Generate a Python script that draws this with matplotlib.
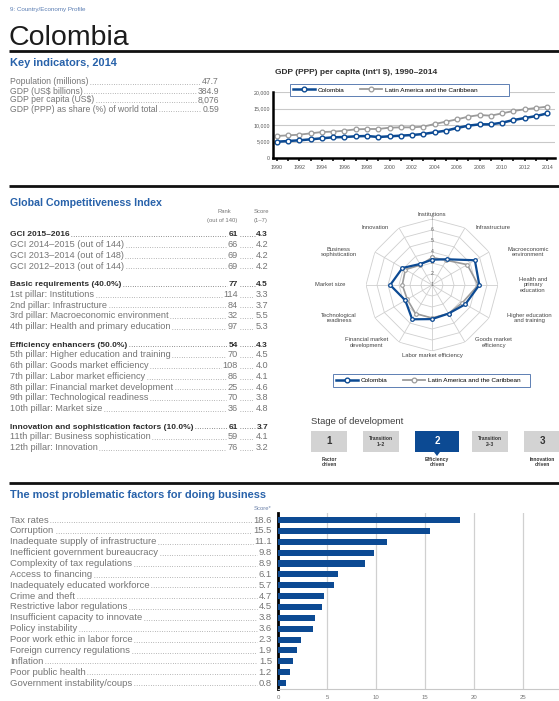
"""Colombia country profile page: key indicators, GDP trend, GCI radar, business factors."""

import matplotlib

matplotlib.use("Agg")

import matplotlib.pyplot as plt  # noqa: E402
import numpy as np  # noqa: E402
from matplotlib.patches import Polygon, Rectangle  # noqa: E402

W, H = 559, 701
plt.rcParams["font.family"] = ["Liberation Sans", "DejaVu Sans"]

BLUE = "#0c4a93"
TITLE_BLUE = "#2862aa"
GRAY = "#757575"
DARK = "#2e2e2e"
LATAM = "#9b9b9b"
FRAME = "#5d7fb3"

# ---- data -------------------------------------------------------------------
key_labels = ["Population (millions)", "GDP (US\\$ billions)", "GDP per capita (US\\$)",
              "GDP (PPP) as share (%) of world total"]
key_values = ["47.7", "384.9", "8,076", "0.59"]

years = list(range(1990, 2015))
gdp_colombia = [4940, 5150, 5360, 5660, 5970, 6270, 6360, 6570, 6670, 6360,
                6570, 6770, 6970, 7270, 7780, 8280, 9090, 9800, 10200, 10200,
                10700, 11500, 12100, 12700, 13500]
gdp_latam = [6670, 6870, 7070, 7470, 7880, 7980, 8280, 8690, 8790, 8790,
             9190, 9290, 9290, 9490, 10300, 11010, 11720, 12520, 13030, 12830,
             13530, 14240, 14750, 15150, 15560]

gci_labels = ["GCI 2015–2016", "GCI 2014–2015 (out of 144)", "GCI 2013–2014 (out of 148)",
              "GCI 2012–2013 (out of 144)",
              "Basic requirements (40.0%)", "1st pillar: Institutions", "2nd pillar: Infrastructure",
              "3rd pillar: Macroeconomic environment", "4th pillar: Health and primary education",
              "Efficiency enhancers (50.0%)", "5th pillar: Higher education and training",
              "6th pillar: Goods market efficiency", "7th pillar: Labor market efficiency",
              "8th pillar: Financial market development", "9th pillar: Technological readiness",
              "10th pillar: Market size",
              "Innovation and sophistication factors (10.0%)", "11th pillar: Business sophistication",
              "12th pillar: Innovation"]
gci_ranks = ["61", "66", "69", "69", "77", "114", "84", "32", "97",
             "54", "70", "108", "86", "25", "70", "36", "61", "59", "76"]
gci_scores = ["4.3", "4.2", "4.2", "4.2", "4.5", "3.3", "3.7", "5.5", "5.3",
              "4.3", "4.5", "4.0", "4.1", "4.6", "3.8", "4.8", "3.7", "4.1", "3.2"]
gci_headline = [True, False, False, False, True, False, False, False, False,
                True, False, False, False, False, False, False, True, False, False]

pillar_names = ["Institutions", "Infrastructure", "Macroeconomic\nenvironment",
                "Health and\nprimary\neducation", "Higher education\nand training",
                "Goods market\nefficiency", "Labor market efficiency",
                "Financial market\ndevelopment", "Technological\nreadiness", "Market size",
                "Business\nsophistication", "Innovation"]
colombia_pillars = [3.3, 3.7, 5.5, 5.3, 4.5, 4.0, 4.1, 4.6, 3.8, 4.8, 4.1, 3.2]
latam_pillars = [3.5, 3.6, 4.7, 5.2, 4.2, 4.0, 4.0, 4.0, 3.6, 3.7, 3.8, 3.1]

stage_names = ["1", "Transition\n1–2", "2", "Transition\n2–3", "3"]
stage_captions = ["Factor\ndriven", "", "Efficiency\ndriven", "", "Innovation\ndriven"]
current_stage = 2

factors = ["Tax rates", "Corruption", "Inadequate supply of infrastructure",
           "Inefficient government bureaucracy", "Complexity of tax regulations",
           "Access to financing", "Inadequately educated workforce", "Crime and theft",
           "Restrictive labor regulations", "Insufficient capacity to innovate",
           "Policy instability", "Poor work ethic in labor force",
           "Foreign currency regulations", "Inflation", "Poor public health",
           "Government instability/coups"]
factor_scores = [18.6, 15.5, 11.1, 9.8, 8.9, 6.1, 5.7, 4.7, 4.5, 3.8, 3.6, 2.3, 1.9, 1.5, 1.2, 0.8]

# ---- page ---------------------------------------------------------------------
fig = plt.figure(figsize=(W / 100, H / 100), dpi=100)
page = fig.add_axes([0, 0, 1, 1])
page.set_xlim(0, W)
page.set_ylim(H, 0)
page.axis("off")
renderer = fig.canvas.get_renderer()


def box(left, top, right, bottom):
    """Figure-fraction rectangle from page pixel edges."""
    return [left / W, 1 - bottom / H, (right - left) / W, (bottom - top) / H]


def leader_row(y, label, cells, size=6.0, weight="normal", color=GRAY):
    """Label on the left, right-aligned values, dotted leaders in between."""
    kw = dict(fontsize=size, fontweight=weight, color=color, va="baseline")
    t = page.text(10, y, label, **kw)
    x = t.get_window_extent(renderer).x1 + 1.5
    for s, right in cells:
        v = page.text(right, y, s, ha="right", **kw)
        x0 = v.get_window_extent(renderer).x0 - 1.5
        if x0 > x:
            page.plot([x, x0], [y - 0.3, y - 0.3], color=color, lw=0.5, ls=(0, (1, 2.4)))
        x = v.get_window_extent(renderer).x1 + 1.5


def framed_legend(ax, left, top, right, bottom):
    """Two-entry legend inside a thin blue rectangle given in page pixels."""
    ax.add_patch(Rectangle((left, top), right - left, bottom - top, transform=page.transData,
                           facecolor="white", edgecolor=FRAME, lw=0.7, clip_on=False,
                           zorder=4))
    leg = ax.legend(handles=[l_col, l_lat], loc="center left",
                    bbox_to_anchor=(left + 3, (top + bottom) / 2),
                    bbox_transform=page.transData, ncol=2, fontsize=4.6, frameon=False,
                    borderpad=0, borderaxespad=0, handlelength=3.4, columnspacing=2.4,
                    handletextpad=0.5)
    leg.set_zorder(5)


page.text(10, 9, "9: Country/Economy Profile", fontsize=4.5, color="#5a7db3", va="center")
page.text(8, 45, "Colombia", fontsize=20.5, color="#1c1c1c", va="baseline")
for y in (51, 186, 483):
    page.plot([9, W], [y, y], color="#111111", lw=2.0, solid_capstyle="butt")

# ---- key indicators -------------------------------------------------------------
page.text(10, 66, "Key indicators, 2014", fontsize=7.9, fontweight="bold", color=TITLE_BLUE)
for i, (lab, val) in enumerate(zip(key_labels, key_values)):
    leader_row(84.5 + 9 * i, lab, [(val, 219)], size=6.2)

# ---- GDP per capita chart ----------------------------------------------------------
page.text(275, 73, "GDP (PPP) per capita (int'l \\$), 1990–2014", fontsize=6.0,
          fontweight="bold", color=DARK, va="center")
ax_g = fig.add_axes(box(273, 92, 555, 158))
l_lat, = ax_g.plot(years, gdp_latam, color=LATAM, lw=1.3, marker="o", ms=3.4,
                   mfc="white", mew=0.9, label="Latin America and the Caribbean")
l_col, = ax_g.plot(years, gdp_colombia, color=BLUE, lw=1.8, marker="o", ms=3.4,
                   mfc="white", mew=1.0, label="Colombia")
ax_g.set_xlim(1989.65, 2014.7)
ax_g.set_ylim(0, 20000)
ax_g.set_yticks([0, 5000, 10000, 15000, 20000])
ax_g.set_yticklabels([f"{v:,}" for v in [0, 5000, 10000, 15000, 20000]])
ax_g.set_xticks(years[::2])
ax_g.set_xticks(years, minor=True)
ax_g.grid(axis="y", color="#c9c9c9", lw=0.8)
ax_g.set_axisbelow(True)
for side in ("top", "right"):
    ax_g.spines[side].set_visible(False)
for side in ("left", "bottom"):
    ax_g.spines[side].set_linewidth(1.8)
    ax_g.spines[side].set_color("black")
ax_g.tick_params(axis="y", labelsize=3.8, colors="#555555", length=0, pad=2)
ax_g.tick_params(axis="x", which="both", labelsize=3.8, labelcolor="#555555",
                 color="black", length=2.2, width=1.1, pad=2.5)
framed_legend(ax_g, 290, 84, 509, 96)

# ---- GCI table --------------------------------------------------------------------
page.text(10, 206, "Global Competitiveness Index", fontsize=7.7, fontweight="bold",
          color=TITLE_BLUE)
page.text(231, 213, "Rank", fontsize=4.2, color=GRAY, ha="right")
page.text(237, 222, "(out of 140)", fontsize=4.2, color=GRAY, ha="right")
page.text(261, 213, "Score", fontsize=4.2, color=GRAY, ha="center")
page.text(261, 222, "(1–7)", fontsize=4.2, color=GRAY, ha="center")
y = 236.5
for i, lab in enumerate(gci_labels):
    if gci_headline[i] and i > 0:
        y += 7
    bold = gci_headline[i]
    leader_row(y, lab, [(gci_ranks[i], 238), (gci_scores[i], 268)],
               size=6.0 if bold else 6.6, weight="bold" if bold else "normal",
               color=DARK if bold else GRAY)
    y += 10.7

# ---- radar ------------------------------------------------------------------------
ax_r = fig.add_axes(box(366, 219, 498, 351), projection="polar")
ax_r.set_theta_zero_location("N")
ax_r.set_theta_direction(-1)
ax_r.set_ylim(1, 7)
ax_r.grid(False)
ax_r.set_xticks([])
ax_r.set_yticks([])
ax_r.spines["polar"].set_visible(False)
ax_r.patch.set_visible(False)
angles = list(np.linspace(0, 2 * np.pi, len(pillar_names), endpoint=False))
ring = angles + angles[:1]
for level in range(2, 8):
    ax_r.plot(ring, [level] * len(ring), color="#cfcfcf", lw=0.6, zorder=1)
for a in angles:
    ax_r.plot([a, a], [1, 7], color="#cfcfcf", lw=0.6, zorder=1)
for level in range(1, 8):
    ax_r.text(0, level, str(level), fontsize=3.8, color="#666666", ha="center", va="center",
              zorder=2)
ax_r.plot(ring, latam_pillars + latam_pillars[:1], color=LATAM, lw=1.2, marker="o", ms=2.6,
          mfc="white", mew=0.8, zorder=3)
ax_r.plot(ring, colombia_pillars + colombia_pillars[:1], color=BLUE, lw=1.6, marker="o",
          ms=2.6, mfc="white", mew=0.9, zorder=4)
for a, name in zip(angles, pillar_names):
    s, c = np.sin(a), np.cos(a)
    ha = "left" if s > 0.3 else ("right" if s < -0.3 else "center")
    va = "bottom" if c > 0.95 else ("top" if c < -0.95 else "center")
    dy = 1.5 * c if abs(c) > 0.95 else 0
    ax_r.annotate(name, xy=(a, 7), xytext=(15 * s, dy), textcoords="offset points",
                  ha=ha, va=va, fontsize=4.2, color="#444444", multialignment="center",
                  annotation_clip=False)
framed_legend(ax_r, 333, 374, 530, 387)

# ---- stage of development ----------------------------------------------------------
page.text(311, 424, "Stage of development", fontsize=6.8, color="#404040")
stage_x = [329, 381, 437, 490, 542]
stage_w = [36, 36, 44, 36, 36]
for i, (name, cap) in enumerate(zip(stage_names, stage_captions)):
    cx, w = stage_x[i], stage_w[i]
    on = i == current_stage
    fc = BLUE if on else "#d3d3d3"
    page.add_patch(Rectangle((cx - w / 2, 431), w, 21, facecolor=fc, edgecolor="none"))
    if on:
        page.add_patch(Polygon([(cx - 3, 452), (cx + 3, 452), (cx, 456)], facecolor=fc,
                               edgecolor="none"))
    big = "\n" not in name
    page.text(cx, 441.5, name, ha="center", va="center", fontsize=7 if big else 3.6,
              fontweight="bold", color="white" if on else "#333333", linespacing=1.0)
    if cap:
        page.text(cx, 462, cap, ha="center", va="center", fontsize=3.6, fontweight="bold",
                  color="#333333", linespacing=1.0)

# ---- problematic factors ------------------------------------------------------------
page.text(10, 498, "The most problematic factors for doing business", fontsize=7.9,
          fontweight="bold", color=TITLE_BLUE)
page.text(271, 510, "Score*", fontsize=4.2, color="#6b80a8", ha="right")
ax_b = fig.add_axes(box(278, 513, 559, 689))
rows = np.arange(len(factors))
ax_b.barh(rows, factor_scores, height=0.56, color=BLUE, zorder=3)
ax_b.set_ylim(15.55, -0.65)
ax_b.set_xlim(0, 28.7)
ax_b.set_xticks([0, 5, 10, 15, 20, 25])
ax_b.set_yticks([])
ax_b.grid(axis="x", color="#d0d0d0", lw=0.9)
ax_b.set_axisbelow(True)
for side in ("top", "right"):
    ax_b.spines[side].set_visible(False)
ax_b.spines["left"].set_linewidth(2.0)
ax_b.spines["left"].set_color("black")
ax_b.spines["bottom"].set_color("#c8c8c8")
ax_b.spines["bottom"].set_linewidth(0.8)
ax_b.tick_params(axis="x", labelsize=4.3, colors="#777777", length=0, pad=4)
for i, (name, score) in enumerate(zip(factors, factor_scores)):
    yc = H - ax_b.transData.transform((0, i))[1]
    leader_row(yc + 2.5, name, [(f"{score:.1f}", 272)], size=6.8)

fig.savefig("out.png", dpi=100)
